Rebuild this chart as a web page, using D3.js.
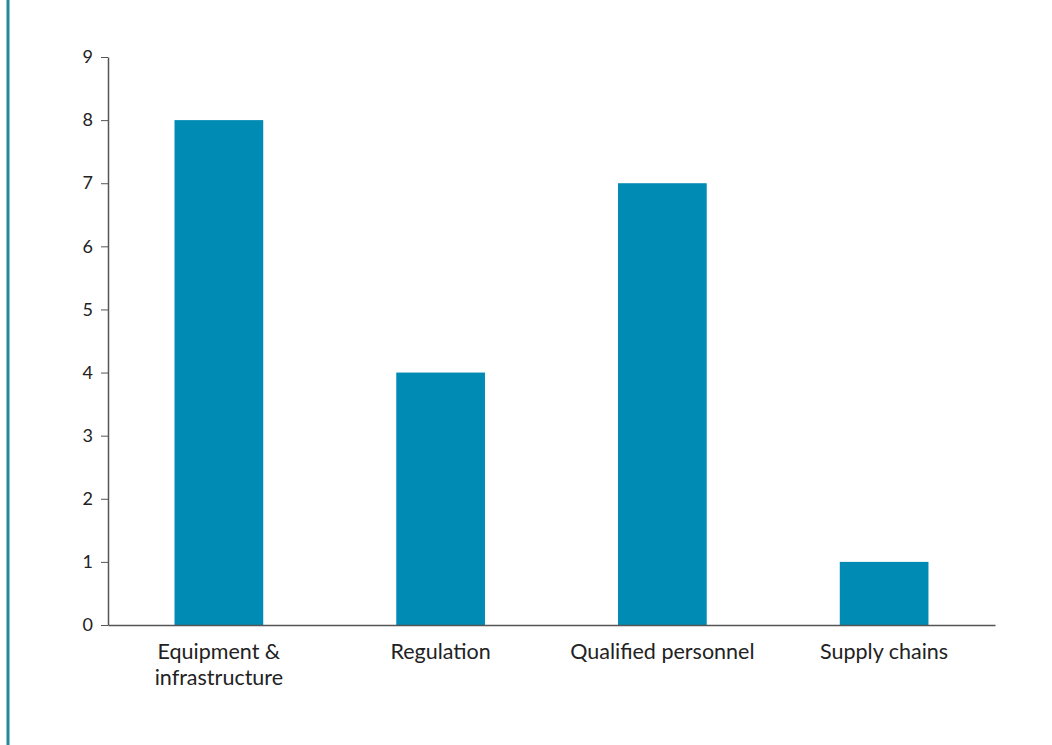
<!DOCTYPE html>
<html>
<head>
<meta charset="utf-8">
<script src="https://cdn.jsdelivr.net/npm/d3@7"></script>
<style>
  body { margin: 0; background: #fff; }
  svg { display: block; font-family: Lato, sans-serif; }
  .axis path, .axis line { stroke: #555; }
  .axis text { fill: #222; font-family: Lato, sans-serif; }
</style>
</head>
<body>
<svg width="1052" height="745"></svg>
<script>
'use strict';

const categories = [["Equipment &", "infrastructure"], ["Regulation"], ["Qualified personnel"], ["Supply chains"]];
const values = [8, 4, 7, 1];
const yTicks = [0, 1, 2, 3, 4, 5, 6, 7, 8, 9];

const svg = d3.select("svg");
const margin = {left: 108, right: 57, top: 57, bottom: 120};
const width = +svg.attr("width"), height = +svg.attr("height");

// teal rule on the left edge
svg.append("line")
    .attr("x1", 8).attr("x2", 8)
    .attr("y1", 0).attr("y2", height)
    .attr("stroke", "#23899a")
    .attr("stroke-width", 3);

const x = d3.scaleBand()
    .domain(d3.range(categories.length))
    .range([margin.left, width - margin.right])
    .paddingInner(0.6)
    .paddingOuter(0.3);

const y = d3.scaleLinear()
    .domain([0, 9])
    .range([height - margin.bottom, margin.top]);

svg.selectAll(".bar")
    .data(values)
    .enter().append("rect")
    .attr("class", "bar")
    .attr("x", (d, i) => x(i))
    .attr("width", x.bandwidth())
    .attr("y", d => y(d))
    .attr("height", d => y(0) - y(d))
    .attr("fill", "#008bb5");

const yAxis = svg.append("g")
    .attr("class", "axis")
    .attr("transform", `translate(${margin.left},0)`)
    .call(d3.axisLeft(y).tickValues(yTicks).tickSize(7).tickPadding(8).tickSizeOuter(0));
yAxis.selectAll("text").style("font-size", "18px");
yAxis.select(".domain").attr("stroke-width", 1.5);

const xAxis = svg.append("g")
    .attr("class", "axis")
    .attr("transform", `translate(0,${y(0)})`)
    .call(d3.axisBottom(x).tickSize(0).tickSizeOuter(0).tickFormat(""));
xAxis.select(".domain").attr("stroke-width", 1.5);

xAxis.selectAll(".tick").each(function (d) {
    const t = d3.select(this).append("text")
        .attr("text-anchor", "middle")
        .style("font-size", "21.5px")
        .attr("fill", "#222");
    categories[d].forEach(function (line, k) {
        t.append("tspan").attr("x", 0).attr("y", 34 + k * 26).text(line);
    });
});
</script>
</body>
</html>
